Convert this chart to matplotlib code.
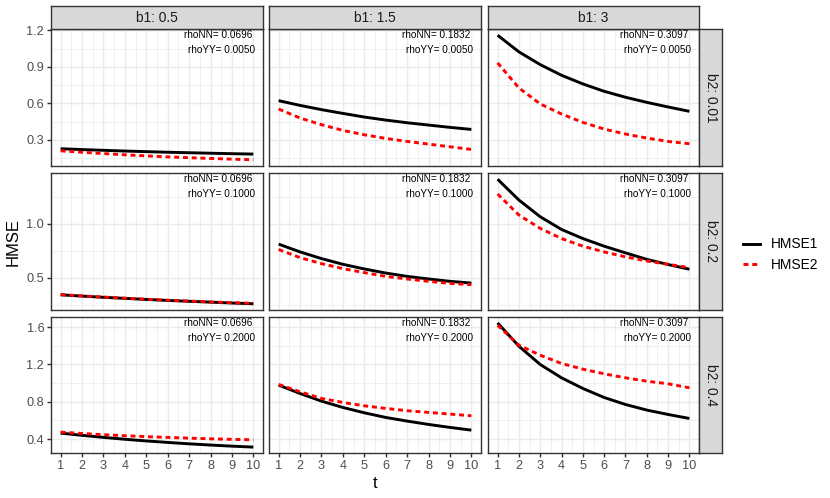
import matplotlib
matplotlib.use("Agg")
import matplotlib.pyplot as plt
from matplotlib.lines import Line2D
import numpy as np

plt.rcParams['font.family'] = ['Liberation Sans', 'DejaVu Sans']

# ---------------- data ----------------
t = [1, 2, 3, 4, 5, 6, 7, 8, 9, 10]
b1_labels = ['0.5', '1.5', '3']
b2_labels = ['0.01', '0.2', '0.4']
rhoNN = ['0.0696', '0.1832', '0.3097']
rhoYY = ['0.0050', '0.1000', '0.2000']

hmse1_r1c1 = [0.226, 0.219, 0.213, 0.207, 0.202, 0.197, 0.193, 0.189, 0.185, 0.182]
hmse1_r1c2 = [0.622, 0.583, 0.548, 0.517, 0.487, 0.462, 0.440, 0.421, 0.402, 0.385]
hmse1_r1c3 = [1.161, 1.024, 0.919, 0.831, 0.760, 0.699, 0.650, 0.608, 0.570, 0.534]
hmse1_r2c1 = [0.341, 0.329, 0.318, 0.308, 0.298, 0.289, 0.281, 0.273, 0.265, 0.258]
hmse1_r2c2 = [0.811, 0.739, 0.677, 0.624, 0.581, 0.543, 0.512, 0.488, 0.466, 0.450]
hmse1_r2c3 = [1.413, 1.220, 1.065, 0.947, 0.863, 0.792, 0.730, 0.670, 0.622, 0.578]
hmse1_r3c1 = [0.464, 0.440, 0.418, 0.398, 0.380, 0.364, 0.349, 0.336, 0.324, 0.314]
hmse1_r3c2 = [0.979, 0.889, 0.807, 0.739, 0.682, 0.632, 0.593, 0.557, 0.525, 0.496]
hmse1_r3c3 = [1.646, 1.396, 1.200, 1.057, 0.943, 0.846, 0.771, 0.711, 0.664, 0.621]

hmse2_r1c1 = [0.209, 0.197, 0.186, 0.176, 0.167, 0.159, 0.152, 0.146, 0.140, 0.135]
hmse2_r1c2 = [0.553, 0.479, 0.424, 0.377, 0.341, 0.311, 0.286, 0.264, 0.242, 0.220]
hmse2_r1c3 = [0.933, 0.727, 0.595, 0.512, 0.443, 0.388, 0.347, 0.314, 0.286, 0.267]
hmse2_r2c1 = [0.343, 0.331, 0.320, 0.310, 0.300, 0.291, 0.283, 0.275, 0.268, 0.262]
hmse2_r2c2 = [0.761, 0.686, 0.630, 0.584, 0.547, 0.512, 0.488, 0.466, 0.447, 0.435]
hmse2_r2c3 = [1.276, 1.081, 0.957, 0.863, 0.792, 0.739, 0.693, 0.655, 0.624, 0.593]
hmse2_r3c1 = [0.475, 0.460, 0.447, 0.436, 0.426, 0.418, 0.410, 0.403, 0.397, 0.392]
hmse2_r3c2 = [0.986, 0.907, 0.836, 0.793, 0.757, 0.729, 0.704, 0.686, 0.668, 0.650]
hmse2_r3c3 = [1.621, 1.407, 1.300, 1.211, 1.150, 1.100, 1.057, 1.021, 0.993, 0.950]

hmse1 = [[hmse1_r1c1, hmse1_r1c2, hmse1_r1c3],
         [hmse1_r2c1, hmse1_r2c2, hmse1_r2c3],
         [hmse1_r3c1, hmse1_r3c2, hmse1_r3c3]]
hmse2 = [[hmse2_r1c1, hmse2_r1c2, hmse2_r1c3],
         [hmse2_r2c1, hmse2_r2c2, hmse2_r2c3],
         [hmse2_r3c1, hmse2_r3c2, hmse2_r3c3]]

y_major = [[0.3, 0.6, 0.9, 1.2], [0.5, 1.0], [0.4, 0.8, 1.2, 1.6]]
y_minor = [[0.15, 0.45, 0.75, 1.05], [0.25, 0.75, 1.25], [0.6, 1.0, 1.4]]

# ---------------- layout ----------------
W, H = 830, 498
fig = plt.figure(figsize=(W / 100, H / 100), dpi=100)

col_x = [(51, 263), (269, 481), (488, 699)]
row_y = [(29, 166), (173, 310), (316.7, 453.3)]
strip_top = (6, 29)
strip_right = (699, 722.3)

GRID = '#EBEBEB'
DARK = '#333333'
TICKC = '#4D4D4D'
STRIPF = '#D9D9D9'


def add_ax(x0, y0, x1, y1):
    return fig.add_axes([x0 / W, 1 - y1 / H, (x1 - x0) / W, (y1 - y0) / H])


def px2pt(p):
    return p * 0.72


for r in range(3):
    allv = np.concatenate([np.ravel(hmse1[r]), np.ravel(hmse2[r])])
    lo, hi = allv.min(), allv.max()
    pad = (hi - lo) * 0.05
    for c in range(3):
        ax = add_ax(col_x[c][0], row_y[r][0], col_x[c][1], row_y[r][1])
        ax.set_facecolor('white')
        ax.set_xlim(0.55, 10.45)
        ax.set_ylim(lo - pad, hi + pad)
        ax.set_xticks(t)
        ax.set_xticks(np.arange(1.5, 10, 1.0), minor=True)
        ax.set_yticks(y_major[r])
        ax.set_yticks(y_minor[r], minor=True)
        ax.grid(True, which='major', color=GRID, lw=1.07, zorder=0)
        ax.grid(True, which='minor', color=GRID, lw=0.53, zorder=0)
        ax.set_axisbelow(True)
        for s in ax.spines.values():
            s.set_color(DARK)
            s.set_linewidth(1.0)
            s.set_zorder(5)
        ax.tick_params(which='minor', length=0)
        ax.tick_params(which='major', length=2.75, width=1.0, color=DARK,
                       labelcolor=TICKC, labelsize=9.2, pad=2.2)
        if c == 0:
            ax.set_yticklabels(['{:.1f}'.format(v) for v in y_major[r]])
        else:
            ax.tick_params(axis='y', which='major', length=0, labelleft=False)
        if r == 2:
            ax.set_xticklabels([str(v) for v in t])
        else:
            ax.tick_params(axis='x', which='major', length=0, labelbottom=False)

        ax.plot(t, hmse1[r][c], color='black', lw=2.1, solid_capstyle='butt', zorder=3)
        ax.plot(t, hmse2[r][c], color='#FF0000', lw=2.1, linestyle=(0, (1.7, 1.3)),
                dash_capstyle='butt', zorder=4)

        ax.annotate('rhoNN= ' + rhoNN[c], xy=(1, 1), xycoords='axes fraction',
                    xytext=(px2pt(-10.5), px2pt(-9.5)), textcoords='offset points',
                    ha='right', va='baseline', fontsize=7.2, color='black')
        ax.annotate('rhoYY= ' + rhoYY[r], xy=(1, 1), xycoords='axes fraction',
                    xytext=(px2pt(-7.6), px2pt(-24.0)), textcoords='offset points',
                    ha='right', va='baseline', fontsize=7.2, color='black')

# top strips
for c in range(3):
    sa = add_ax(col_x[c][0], strip_top[0], col_x[c][1], strip_top[1])
    sa.set_facecolor(STRIPF)
    sa.set_xticks([]); sa.set_yticks([])
    for s in sa.spines.values():
        s.set_color(DARK); s.set_linewidth(1.0)
    sa.text(0.5, 0.5, 'b1: ' + b1_labels[c], ha='center', va='center',
            fontsize=9.9, color='#1A1A1A', transform=sa.transAxes)

# right strips
for r in range(3):
    sa = add_ax(strip_right[0], row_y[r][0], strip_right[1], row_y[r][1])
    sa.set_facecolor(STRIPF)
    sa.set_xticks([]); sa.set_yticks([])
    for s in sa.spines.values():
        s.set_color(DARK); s.set_linewidth(1.0)
    sa.text(0.5, 0.5, 'b2: ' + b2_labels[r], ha='center', va='center', rotation=-90,
            fontsize=9.9, color='#1A1A1A', transform=sa.transAxes)

# axis titles
fig.text(13.5 / W, 1 - 241.5 / H, 'HMSE', rotation=90, ha='center', va='center',
         fontsize=12, color='black')
fig.text(375 / W, 1 - 483 / H, 't', ha='center', va='center', fontsize=12, color='black')

# legend
handles = [Line2D([], [], color='black', lw=2.1),
           Line2D([], [], color='#FF0000', lw=2.1, linestyle=(0, (1.7, 1.3)))]
leg = fig.legend(handles, ['HMSE1', 'HMSE2'], loc='center left',
                 bbox_to_anchor=(743 / W, 1 - 254.5 / H), frameon=False,
                 fontsize=9.9, handlelength=1.2, handletextpad=0.8,
                 labelspacing=0.45, borderpad=0, borderaxespad=0)

fig.savefig('out.png', dpi=100, facecolor='white')
